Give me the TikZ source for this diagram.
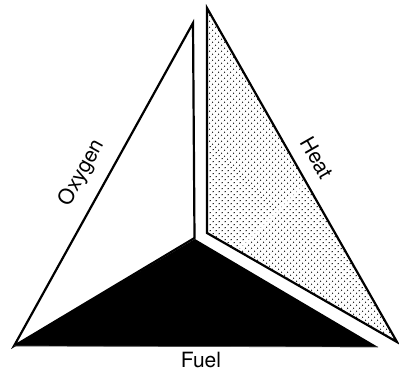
\documentclass[tikz,border=0pt]{standalone}
\usepackage{fontspec}
\setmainfont{TeX Gyre Heros}
\usetikzlibrary{patterns.meta}
\begin{document}
\begin{tikzpicture}[x=1pt,y=-1pt,
  face/.style={line width=2.2pt,line join=miter},
  lbl/.style={font=\fontsize{21}{23}\selectfont,inner sep=0pt}]
\useasboundingbox (0,0) rectangle (399,372);
% vertices
\coordinate (OT) at (193,23);
\coordinate (OL) at (14,346);
\coordinate (OC) at (194.5,238);
\coordinate (FC) at (195,239);
\coordinate (FR) at (378,347);
\coordinate (HT) at (207,8);
\coordinate (HC) at (207,233);
\coordinate (HR) at (397,342);
% oxygen face
\draw[face,fill=white] (OL) -- (OT) -- (OC) -- cycle;
% fuel face
\fill[black] (OL) -- (FC) -- (FR) -- cycle;
\draw[line width=0.7pt,black!70] (OL) -- (FR);
% heat face
\fill[pattern={Dots[distance=4pt,angle=45,radius=0.7pt]}] (HT) -- (HC) -- (HR) -- cycle;
\draw[face] (HT) -- (HC) -- (HR) -- cycle;
% labels
\node[lbl,rotate=61] (oxy) at (82,173) {Oxygen};
\node[lbl,rotate=-60.2] (heat) at (317,158) {Heat};
\node[lbl] (fuel) at (201,360) {Fuel};
\end{tikzpicture}
\end{document}
